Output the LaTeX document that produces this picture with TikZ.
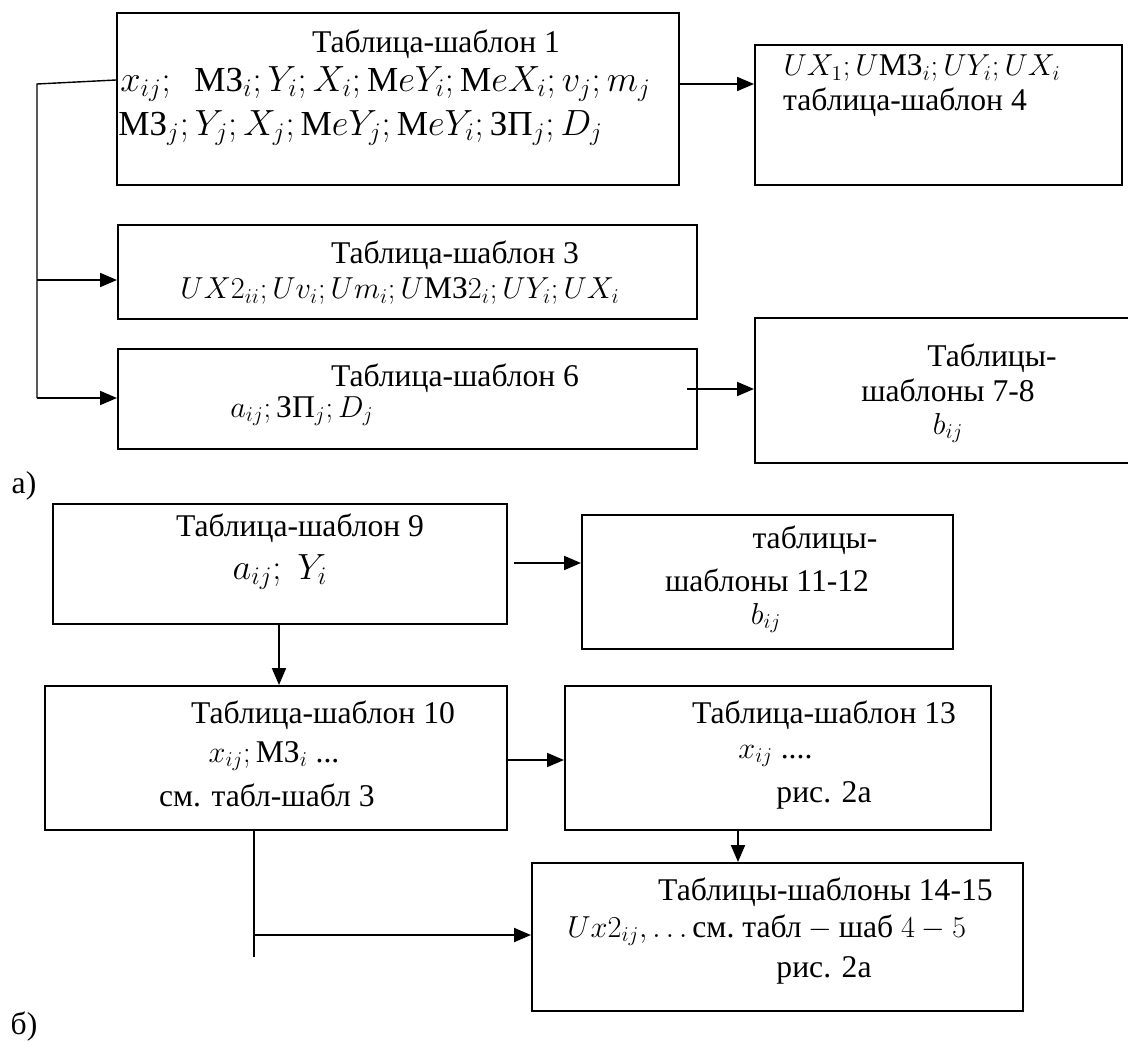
\documentclass[tikz,border=0pt]{standalone}
\usepackage{amsmath}
\usepackage{fontspec}
\setmainfont{Liberation Serif}
\usetikzlibrary{positioning, calc, arrows.meta}

\newcommand{\cy}[1]{\text{#1}}

\begin{document}
\begin{tikzpicture}[
  x=0.02cm, y=-0.02cm,
  >={Triangle[length=3.4mm, width=2.8mm]},
  tbox/.style  = {draw, line width=1.1pt, anchor=north west, inner sep=0pt},
  txt/.style   = {inner sep=0pt, font=\fontsize{18}{20}\selectfont},
  mth/.style   = {inner sep=0pt, font=\fontsize{20}{22}\selectfont},
  link/.style  = {line width=1.1pt},
  trunk/.style = {line width=0.8pt},
]
  \clip (0,0) rectangle (1128,1048);

  % a) part
  \node[tbox, minimum width=11.24cm, minimum height=3.44cm] (t1)  at (116,12)  {};
  \node[tbox, minimum width=7.34cm,  minimum height=2.8cm]  (t4)  at (754,44)  {};
  \node[tbox, minimum width=11.58cm, minimum height=1.88cm] (t3)  at (117,224) {};
  \node[tbox, minimum width=11.58cm, minimum height=2cm]    (t6)  at (117,348) {};
  \node[tbox, minimum width=8cm,     minimum height=2.9cm]  (t78) at (754,317) {};

  \node[txt] (t1a) at (436,44) {Таблица-шаблон 1};
  \node[mth, anchor=west] (t1b) at (120,84)
    {$x_{ij};\ \ \cy{МЗ}_i;Y_i;X_i;\cy{М}eY_i;\cy{М}eX_i;v_j;m_j$};
  \node[mth, anchor=west] (t1c) at (118,128)
    {$\cy{МЗ}_j;Y_j;X_j;\cy{М}eY_j;\cy{М}eY_i;\cy{ЗП}_j;D_j$};

  \node[txt] (t4a) at (922,68) {$UX_1;U\cy{МЗ}_i;UY_i;UX_i$};
  \node[txt] (t4b) at (905,102) {таблица-шаблон 4};

  \node[txt] (t3a) at (455,255) {Таблица-шаблон 3};
  \node[txt] (t3b) at (400,291) {$UX2_{ii};Uv_i;Um_i;U\cy{МЗ}2_i;UY_i;UX_i$};

  \node[txt] (t6a) at (455,378) {Таблица-шаблон 6};
  \node[txt, anchor=west] (t6b) at (230,411) {$a_{ij};\cy{ЗП}_j;D_j$};

  \node[txt] (t78a) at (992,358) {Таблицы-};
  \node[txt] (t78b) at (948,390) {шаблоны 7-8};
  \node[txt] (t78c) at (948,428) {$b_{ij}$};

  \node[txt] (la) at (24,486) {а)};

  \coordinate (a1) at (678,84);
  \draw[link, ->] (a1) -- (a1 -| t4.west);

  \coordinate (c1) at (116,80);
  \coordinate (tr) at (37,84);
  \coordinate (b3) at (37,280);
  \coordinate (b6) at (37,398);
  \draw[trunk] (c1) -- (tr) -- (b6);
  \draw[link, ->] (b3) -- (b3 -| t3.west);
  \draw[link, ->] (b6) -- (b6 -| t6.west);

  \coordinate (s6) at (687,389);
  \draw[link, ->] (s6) -- (s6 -| t78.west);

  % b) part
  \node[tbox, minimum width=9.08cm, minimum height=2.4cm]  (t9)  at (52,503)  {};
  \node[tbox, minimum width=7.42cm, minimum height=2.68cm] (t11) at (581,514) {};
  \node[tbox, minimum width=9.24cm, minimum height=2.88cm] (t10) at (44,685)  {};
  \node[tbox, minimum width=8.52cm, minimum height=2.88cm] (t13) at (564,685) {};
  \node[tbox, minimum width=9.82cm, minimum height=2.96cm] (t14) at (531,862) {};

  \node[txt] (t9a) at (300,528) {Таблица-шаблон 9};
  \node[mth, font=\fontsize{22}{24}\selectfont] (t9b) at (280,572) {$a_{ij};\ Y_i$};

  \node[txt] (t11a) at (815,540) {таблицы-};
  \node[txt] (t11b) at (767,580) {шаблоны 11-12};
  \node[txt] (t11c) at (766,618) {$b_{ij}$};

  \node[txt] (t10a) at (323,715) {Таблица-шаблон 10};
  \node[txt] (t10b) at (274,756) {$x_{ij};\cy{МЗ}_i$ ...};
  \node[txt, anchor=east] (t10c) at (375,795) {см. табл-шабл 3};

  \node[txt] (t13a) at (824,715) {Таблица-шаблон 13};
  \node[txt, anchor=west] (t13b) at (738,756) {$x_{ij}$ ....};
  \node[txt] (t13c) at (824,795) {рис. 2а};

  \node[txt, anchor=east] (t14a) at (993,892) {Таблицы-шаблоны 14-15};
  \node[txt, anchor=west] (t14b) at (567,930)
    {$Ux2_{ij},\ldots\cy{см.\ табл}-\cy{шаб}\ 4-5$};
  \node[txt] (t14c) at (824,970) {рис. 2а};

  \node[txt] (lb) at (24,1027) {б)};

  \coordinate (s9) at (514,563);
  \draw[link, ->] (s9) -- (s9 -| t11.west);

  \coordinate (d9) at (279,0);
  \draw[link, ->] (d9 |- t9.south) -- (d9 |- t10.north);

  \coordinate (s10) at (0,760);
  \draw[link, ->] (t10.east |- s10) -- (t13.west |- s10);

  \coordinate (d13) at (738,0);
  \draw[link, ->] (d13 |- t13.south) -- (d13 |- t14.north);

  \coordinate (v10) at (254,957);
  \coordinate (h10) at (254,935);
  \draw[trunk] (v10 |- t10.south) -- (v10);
  \draw[link, ->] (h10) -- (h10 -| t14.west);
\end{tikzpicture}
\end{document}
